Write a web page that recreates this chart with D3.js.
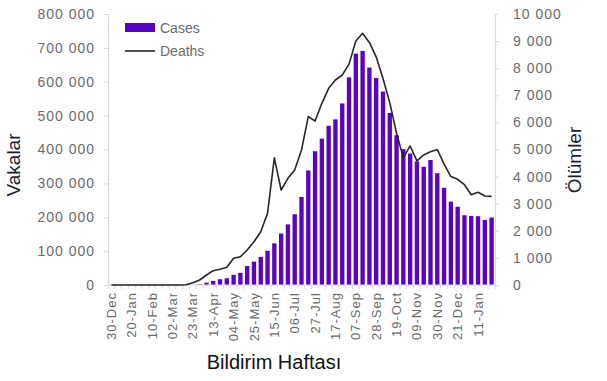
<!DOCTYPE html>
<html><head><meta charset="utf-8">
<script src="https://cdn.jsdelivr.net/npm/d3@7"></script>
<style>
html,body{margin:0;padding:0;background:#fff;}
svg{display:block;font-family:"Liberation Sans",Arial,sans-serif;}
</style></head>
<body><svg id="c" width="607" height="381"></svg>
<script>
const weeks = ["30-Dec","06-Jan","13-Jan","20-Jan","27-Jan","03-Feb","10-Feb","17-Feb","24-Feb","02-Mar","09-Mar","16-Mar","23-Mar","30-Mar","06-Apr","13-Apr","20-Apr","27-Apr","04-May","11-May","18-May","25-May","01-Jun","08-Jun","15-Jun","22-Jun","29-Jun","06-Jul","13-Jul","20-Jul","27-Jul","03-Aug","10-Aug","17-Aug","24-Aug","31-Aug","07-Sep","14-Sep","21-Sep","28-Sep","05-Oct","12-Oct","19-Oct","26-Oct","02-Nov","09-Nov","16-Nov","23-Nov","30-Nov","07-Dec","14-Dec","21-Dec","28-Dec","04-Jan","11-Jan","18-Jan","25-Jan"];
const cases = [0,0,0,0,0,0,0,0,0,0,0,0,0,2000,7000,12000,17000,20000,30000,36000,56000,69000,83000,101000,123000,152000,179000,209000,260000,338000,395000,432000,470000,489000,536000,613000,683000,691000,642000,611000,571000,508000,442000,401000,388000,365000,349000,369000,330000,287000,246000,231000,206000,204000,203000,192000,199000];
const deaths = [0,0,0,0,0,0,0,0,0,0,0,10,80,185,369,528,579,653,985,1044,1291,1598,1967,2650,4690,3505,3937,4243,4981,6211,6050,6704,7257,7565,7749,8150,9000,9290,8950,8420,7620,6730,5600,4690,5130,4580,4800,4919,5000,4460,4000,3900,3700,3330,3420,3284,3270];
const casesTicks = [0,100000,200000,300000,400000,500000,600000,700000,800000];
const deathsTicks = [0,1000,2000,3000,4000,5000,6000,7000,8000,9000,10000];
const seriesNames = ["Cases","Deaths"];
const titles = {left:"Vakalar", right:"Ölümler", bottom:"Bildirim Haftası"};

const svg = d3.select("#c");
const L=108, R=495, T=14, B=285;
const axisCol="#d9d9d9", txtCol="#6b6b6b", barCol="#5804c0";
const fmt = v => d3.format(",")(v).replace(/,/g," ");

const x = d3.scaleBand().domain(weeks).range([L,R]).paddingInner(0.36).paddingOuter(0.18);
const xc = d3.scaleBand().domain(weeks).range([L,R]);
const yL = d3.scaleLinear().domain([0,800000]).range([B,T]);
const yR = d3.scaleLinear().domain([0,10000]).range([B,T]);

// bars
svg.append("g").selectAll("rect").data(weeks).join("rect")
  .attr("x",(d)=>x(d)).attr("width",x.bandwidth())
  .attr("y",(d,i)=>yL(cases[i])).attr("height",(d,i)=>B-yL(cases[i]))
  .attr("fill",barCol);

// axes
const gL = svg.append("g").attr("transform",`translate(${L},0)`)
  .call(d3.axisLeft(yL).tickValues(casesTicks).tickFormat(fmt).tickSize(4).tickPadding(9));
const gR = svg.append("g").attr("transform",`translate(${R},0)`)
  .call(d3.axisRight(yR).tickValues(deathsTicks).tickFormat(fmt).tickSize(4).tickPadding(14));
const gB = svg.append("g").attr("transform",`translate(0,${B})`)
  .call(d3.axisBottom(xc).tickValues(weeks.filter((d,i)=>i%3===0)).tickSize(0).tickPadding(6));
// category boundary ticks
svg.append("g").selectAll("line").data(d3.range(weeks.length+1)).join("line")
  .attr("x1",i=>L+i*xc.step()).attr("x2",i=>L+i*xc.step())
  .attr("y1",B).attr("y2",B+4).attr("stroke",axisCol);

[gL,gR,gB].forEach(g=>{
  g.select(".domain").attr("stroke",axisCol).attr("stroke-width",1.2);
  g.selectAll(".tick line").attr("stroke",axisCol);
  g.selectAll("text").attr("fill",txtCol).style("font-size","14px").style("letter-spacing","1px");
});
gB.select(".domain").attr("d",`M${L},0H${R}`);
gB.selectAll("text").style("font-size","13px")
  .attr("transform","rotate(-90)").attr("text-anchor","end")
  .attr("x",-7).attr("y",0).attr("dy","0.35em");

// deaths line
const line = d3.line().x((d,i)=>xc(weeks[i])+xc.bandwidth()/2).y(d=>yR(d)).curve(d3.curveLinear);
svg.append("path").datum(deaths).attr("d",line).attr("fill","none")
  .attr("stroke","#262626").attr("stroke-width",1.6).attr("stroke-linejoin","round");

// titles
svg.append("text").attr("transform","translate(20,165) rotate(-90)").attr("text-anchor","middle")
  .attr("fill","#1b1b33").style("font-size","19px").text(titles.left);
svg.append("text").attr("transform","translate(581,160) rotate(-90)").attr("text-anchor","middle")
  .attr("fill","#1b1b33").style("font-size","19px").text(titles.right);
svg.append("text").attr("x",274).attr("y",369).attr("text-anchor","middle")
  .attr("fill","#111").style("font-size","20px").text(titles.bottom);

// legend
const lg = svg.append("g");
lg.append("rect").attr("x",125).attr("y",23).attr("width",30).attr("height",9).attr("fill",barCol);
lg.append("line").attr("x1",125).attr("x2",155).attr("y1",51).attr("y2",51).attr("stroke","#262626").attr("stroke-width",1.6);
lg.selectAll("text").data(seriesNames).join("text")
  .attr("x",160).attr("y",(d,i)=>28+i*23).attr("dy","0.35em")
  .attr("fill",txtCol).style("font-size","14px").text(d=>d);
</script></body></html>
